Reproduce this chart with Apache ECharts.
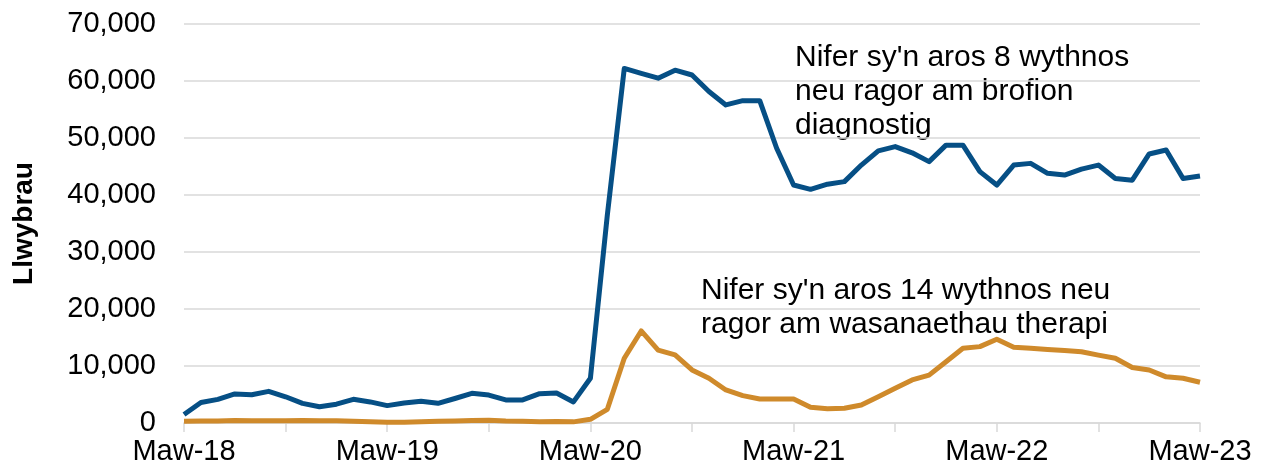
<!DOCTYPE html>
<html>
<head>
<meta charset="utf-8">
<script src="https://cdn.jsdelivr.net/npm/echarts@6/dist/echarts.min.js"></script>
<style>
  html, body { margin: 0; padding: 0; background: #fff; }
  #main { width: 1263px; height: 473px; }
</style>
</head>
<body>
<div id="main"></div>
<script>
// misoedd Maw-18 .. Maw-23
const monthNames = ['Ion', 'Chwe', 'Maw', 'Ebr', 'Mai', 'Meh', 'Gor', 'Aws', 'Medi', 'Hyd', 'Tach', 'Rhag'];
const months = [];
for (let y = 18; y <= 23; y++) {
    for (let m = 0; m < 12; m++) {
        if ((y === 18 && m < 2) || (y === 23 && m > 2)) continue;
        months.push(monthNames[m] + '-' + y);
    }
}

// 8 wythnos neu ragor - profion diagnostig
const diagnostig = [
    1500, 3600, 4150, 5100, 4950, 5550, 4600, 3450, 2850, 3300,
    4150, 3700, 3050, 3500, 3800, 3450, 4300, 5200, 4900, 4050,
    4050, 5150, 5250, 3700, 7850, 36500, 62200, 61350, 60500, 61900,
    61050, 58150, 55800, 56550, 56550, 48200, 41750, 41000, 41900, 42350,
    45250, 47750, 48500, 47400, 45850, 48750, 48750, 44100, 41750, 45250,
    45550, 43800, 43500, 44550, 45250, 42900, 42600, 47200, 47900, 42900, 43350
];

// 14 wythnos neu ragor - gwasanaethau therapi
const therapi = [
    300, 350, 350, 450, 400, 400, 400, 450, 400, 400,
    300, 200, 150, 150, 200, 300, 350, 450, 500, 350,
    300, 200, 250, 200, 650, 2400, 11350, 16150, 12800, 11950,
    9300, 7850, 5800, 4800, 4200, 4200, 4200, 2750, 2500, 2600,
    3150, 4600, 6100, 7550, 8400, 10750, 13100, 13400, 14700, 13300,
    13100, 12900, 12700, 12500, 11900, 11350, 9750, 9300, 8100, 7850, 7150
];

const yTicks = [0, 10000, 20000, 30000, 40000, 50000, 60000, 70000];

const labelDiag = "Nifer sy'n aros 8 wythnos\nneu ragor am brofion\ndiagnostig";
const labelTher = "Nifer sy'n aros 14 wythnos neu\nragor am wasanaethau therapi";

const font = 'Liberation Sans, Arial, sans-serif';
const myChart = echarts.init(document.getElementById('main'));

const option = {
    animation: false,
    grid: { left: 184, right: 63, top: 24, bottom: 50, containLabel: false },
    xAxis: {
        type: 'category',
        data: months,
        boundaryGap: false,
        axisLine: { lineStyle: { color: '#d9d9d9', width: 1.5 } },
        axisTick: { interval: 5, length: 9, lineStyle: { color: '#d9d9d9', width: 1.5 } },
        axisLabel: {
            interval: 11,
            margin: 14,
            color: '#000',
            fontSize: 29,
            fontFamily: font
        },
        splitLine: { show: false }
    },
    yAxis: {
        type: 'value',
        min: yTicks[0],
        max: yTicks[yTicks.length - 1],
        interval: 10000,
        name: 'Llwybrau',
        nameLocation: 'middle',
        nameGap: 146,
        nameTextStyle: { color: '#000', fontSize: 28, fontWeight: 'bold', fontFamily: font },
        axisLine: { show: false },
        axisTick: { show: false },
        axisLabel: {
            margin: 28,
            color: '#000',
            fontSize: 29,
            fontFamily: font,
            formatter: v => v.toLocaleString('en-US')
        },
        splitLine: { lineStyle: { color: '#d9d9d9', width: 1.5 } }
    },
    series: [
        {
            name: 'diagnostig',
            type: 'line',
            data: diagnostig,
            symbol: 'none',
            lineStyle: { color: '#064f85', width: 5, join: 'round' },
            z: 3
        },
        {
            name: 'therapi',
            type: 'line',
            data: therapi,
            symbol: 'none',
            lineStyle: { color: '#cf8a2b', width: 5, join: 'round' },
            z: 2
        }
    ],
    graphic: [
        {
            type: 'text', left: 795, top: 41,
            style: { text: labelDiag, fill: '#000', font: '30px ' + font, lineHeight: 34 }
        },
        {
            type: 'text', left: 701, top: 274,
            style: { text: labelTher, fill: '#000', font: '30px ' + font, lineHeight: 34 }
        }
    ]
};

myChart.setOption(option);
</script>
</body>
</html>
